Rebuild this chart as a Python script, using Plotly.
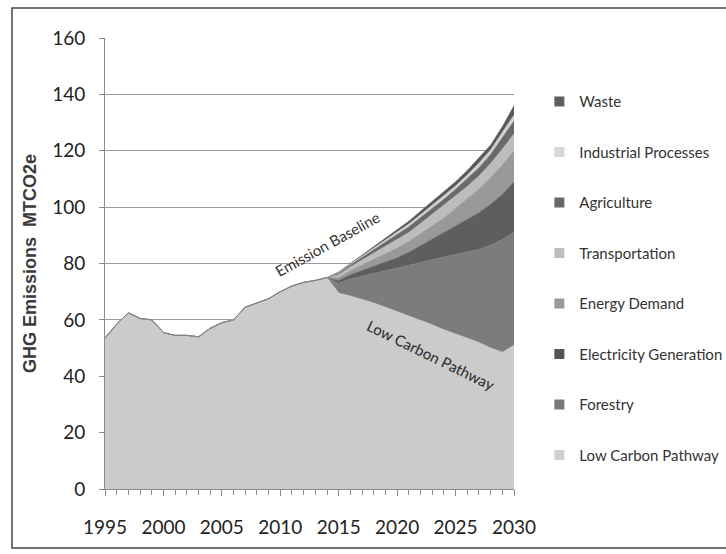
import plotly.graph_objects as go

# ---------------- data ----------------
hist_years = list(range(1995, 2015))
hist_lcp = [53.5, 58.5, 62.5, 60.5, 60, 55.5, 54.5, 54.5, 54, 57,
            59, 60, 64.5, 66, 67.5, 70, 72, 73.3, 74, 75]

proj_years = list(range(2014, 2031))
lcp_proj = [75, 69.5, 68.5, 67.3, 66, 64.5, 63, 61.5, 60, 58.3, 56.5, 55, 53.5, 52, 50, 48.5, 51]
forestry = [0, 3.5, 6, 8.2, 10.5, 13, 15.5, 17.8, 20.3, 23, 25.8, 28.2, 30.5, 33, 36.5, 40, 40]
electricity = [0, 1, 1.5, 2, 2.5, 3, 3.5, 4.7, 6, 7.5, 8.9, 10.3, 11.8, 13, 14.5, 16, 18]
energy_demand = [0, 1, 1.5, 2, 2.5, 3, 3.5, 3.8, 4.2, 4.4, 5, 6, 7.2, 8.5, 9.5, 10.5, 11]
transportation = [0, 1, 1.3, 1.8, 2.3, 2.5, 3, 3.2, 3.7, 4.3, 4.3, 4.3, 4.3, 4.5, 5, 5.5, 6]
agriculture = [0, 0.5, 0.7, 0.9, 1.2, 1.6, 1.8, 2, 2.1, 2, 2.3, 2.5, 2.7, 3, 3.2, 4, 4.6]
industrial = [0, 0.3, 0.3, 0.4, 0.5, 0.7, 0.9, 1, 1, 1.1, 1.2, 1.2, 1.4, 1.6, 1.6, 1.8, 2.1]
waste = [0, 0.2, 0.2, 0.4, 0.5, 0.7, 0.8, 1, 1.2, 1.4, 1.5, 1.5, 1.6, 1.9, 1.7, 2.2, 3.3]

lcp_years = hist_years + proj_years[1:]
lcp_values = hist_lcp + lcp_proj[1:]

series_names = ["Low Carbon Pathway", "Forestry", "Electricity Generation", "Energy Demand",
                "Transportation", "Agriculture", "Industrial Processes", "Waste"]
series_values = [lcp_values, forestry, electricity, energy_demand,
                 transportation, agriculture, industrial, waste]
series_x = [lcp_years] + [proj_years] * 7
fill_colors = ["#cbcbcb", "#7c7c7c", "#5e5e5e", "#999999",
               "#bdbdbd", "#6a6a6a", "#d2d2d2", "#5a5a5a"]
legend_colors = ["#d0d0d0", "#7a7a7a", "#555555", "#9a9a9a",
                 "#bebebe", "#686868", "#d6d6d6", "#5e5e5e"]

x_ticks = [1995, 2000, 2005, 2010, 2015, 2020, 2025, 2030]
y_ticks = [0, 20, 40, 60, 80, 100, 120, 140, 160]

FONT = "Lato, Open Sans, sans-serif"

fig = go.Figure()
for name, xs, ys, col in zip(series_names, series_x, series_values, fill_colors):
    fig.add_trace(go.Scatter(
        x=xs, y=ys, name=name, stackgroup="one", mode="lines",
        line=dict(width=0.6, color=col), fillcolor=col, showlegend=False,
        hoverinfo="x+y+name"))

# legend entries (Waste at top)
for name, col in reversed(list(zip(series_names, legend_colors))):
    fig.add_trace(go.Scatter(
        x=[None], y=[None], mode="markers", name=name, legendgroup=name,
        marker=dict(symbol="square", size=10, color=col)))

fig.update_layout(
    width=726, height=554,
    margin=dict(l=105, r=212, t=38, b=65, autoexpand=False),
    paper_bgcolor="white", plot_bgcolor="white",
    showlegend=True,
    legend=dict(x=1.062, y=0.895, xanchor="left", yanchor="top",
                traceorder="grouped", tracegroupgap=28,
                font=dict(family=FONT, size=15, color="#333333"),
                bgcolor="rgba(0,0,0,0)", itemwidth=30),
    xaxis=dict(range=[1995, 2030], tickmode="array", tickvals=x_ticks,
               ticktext=[str(v) for v in x_ticks],
               showgrid=False, showline=True, linecolor="#8a8a8a", linewidth=1,
               ticks="outside", ticklen=6, tickcolor="#8a8a8a",
               minor=dict(dtick=1, ticks="outside", ticklen=5, tickcolor="#8a8a8a"),
               ticklabelstandoff=15,
               tickfont=dict(family=FONT, size=19, color="#222222"), zeroline=False),
    yaxis=dict(range=[0, 160], tickmode="array", tickvals=y_ticks,
               showgrid=True, gridcolor="#9a9a9a", gridwidth=1,
               showline=True, linecolor="#8a8a8a", linewidth=1,
               ticks="outside", ticklen=5, tickcolor="#8a8a8a",
               ticklabelstandoff=10,
               tickfont=dict(family=FONT, size=19, color="#222222"), zeroline=False,
               title=dict(text="GHG Emissions\u00a0\u00a0MTCO2e", standoff=10,
                          font=dict(family="Liberation Sans, Arial, sans-serif",
                                    size=18, color="#3a3a3a", weight="bold"))),
    shapes=[dict(type="rect", xref="paper", yref="paper",
                 x0=-0.2274, x1=1.53, y0=-0.1308, y1=1.0665,
                 line=dict(color="#444444", width=1.5), fillcolor="rgba(0,0,0,0)",
                 layer="below")],
    annotations=[
        dict(text="Emission Baseline", x=2014.0, y=87, xref="x", yref="y",
             showarrow=False, textangle=-29,
             font=dict(family=FONT, size=15, color="#333333")),
        dict(text="Low Carbon Pathway", x=2022.9, y=47.5, xref="x", yref="y",
             showarrow=False, textangle=26,
             font=dict(family=FONT, size=15, color="#2a2a2a")),
    ],
)

fig.write_html("out.html")
